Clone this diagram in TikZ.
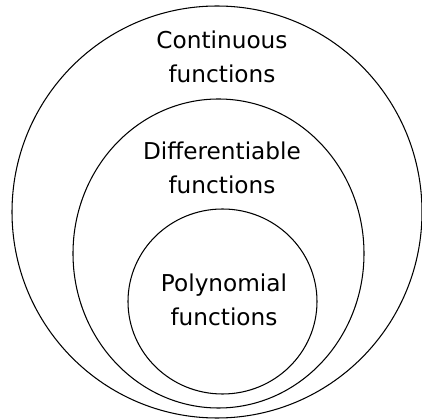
\documentclass[tikz,border=0pt]{standalone}
\usepackage{fontspec}
\setmainfont{DejaVu Sans}
\usetikzlibrary{positioning}
\tikzset{
    set/.style={draw, line width=0.75pt},
    setlabel/.style={align=center, inner sep=0pt, font=\fontsize{16.5}{24.5}\selectfont},
}
\begin{document}
\begin{tikzpicture}[x=0.025cm, y=-0.025cm]
\useasboundingbox (0,0) rectangle (422,419);
% --- Outer set ---
                \draw[set] (217,212) ellipse (205 and 206);
                \node[setlabel] (cont) at (222,57) {Continuous\\functions};
% --- Middle set ---
                \draw[set] (218.5,253.5) ellipse (145.5 and 154.5);
                \node[setlabel] (diff) at (222,168) {Differentiable\\functions};
% --- Inner set ---
                \draw[set] (222.5,301.5) ellipse (94.5 and 92.5);
                \node[setlabel] (poly) at (224,300) {Polynomial\\functions};
\end{tikzpicture}
\end{document}
